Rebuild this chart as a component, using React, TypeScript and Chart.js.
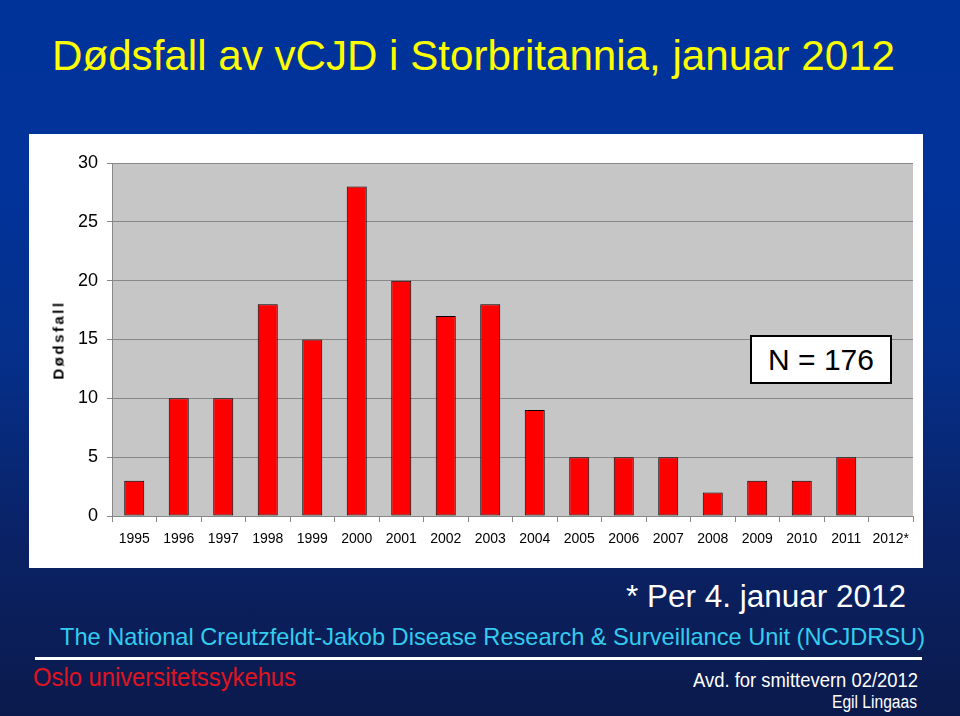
import React, { useEffect, useLayoutEffect, useRef, useState } from "react";
import { Chart, registerables } from "chart.js";

Chart.register(...registerables);

const categories = ["1995", "1996", "1997", "1998", "1999", "2000", "2001", "2002", "2003", "2004", "2005", "2006", "2007", "2008", "2009", "2010", "2011", "2012*"];
const deaths = [3, 10, 10, 18, 15, 28, 20, 17, 18, 9, 5, 5, 5, 2, 3, 3, 5, 0];
const yMax = 30;
const yStep = 5;

const FONT = "'Liberation Sans', Arial, Helvetica, sans-serif";

type FitProps = { text: string; left: number; capTop: number; width: number; size: number; color: string };

function FitText({ text, left, capTop, width, size, color }: FitProps) {
  const ref = useRef<HTMLSpanElement | null>(null);
  const [sx, setSx] = useState(1);
  useLayoutEffect(() => {
    if (ref.current) {
      const w = ref.current.getBoundingClientRect().width / sx;
      if (w > 0) setSx(width / w);
    }
  }, []);
  return (
    <span
      ref={ref}
      style={{
        position: "absolute",
        left,
        top: capTop - 0.1305 * size,
        fontFamily: FONT,
        fontSize: size,
        lineHeight: 1,
        color,
        whiteSpace: "nowrap",
        transform: `scaleX(${sx})`,
        transformOrigin: "left top",
      }}
    >
      {text}
    </span>
  );
}

const plotBg = {
  id: "plotBg",
  beforeDraw(chart: any) {
    const { ctx, chartArea } = chart;
    ctx.save();
    ctx.fillStyle = "#c6c6c6";
    ctx.fillRect(chartArea.left, chartArea.top, chartArea.right - chartArea.left, chartArea.bottom - chartArea.top);
    ctx.restore();
  },
};

function BarChart() {
  const canvasRef = useRef<HTMLCanvasElement | null>(null);
  useEffect(() => {
    if (!canvasRef.current) return;
    const chart = new Chart(canvasRef.current, {
      type: "bar",
      data: {
        labels: categories,
        datasets: [
          {
            data: deaths,
            backgroundColor: "#ff0000",
            borderColor: "#000000",
            borderWidth: 1,
            borderSkipped: false,
            barPercentage: 0.45,
            categoryPercentage: 1,
          },
        ],
      },
      options: {
        animation: false,
        responsive: false,
        maintainAspectRatio: false,
        layout: { padding: { top: 29, right: 10, left: 0, bottom: 0 } },
        plugins: { legend: { display: false }, tooltip: { enabled: false }, title: { display: false } },
        scales: {
          x: {
            grid: { display: true, drawOnChartArea: false, drawTicks: true, tickLength: 6, color: "#888888", offset: true },
            border: { color: "#888888", width: 1 },
            ticks: { color: "#000", font: { family: FONT, size: 14 }, padding: 9, maxRotation: 0, autoSkip: false },
            afterFit(s: any) {
              s.height = 52;
            },
          },
          y: {
            min: 0,
            max: yMax,
            ticks: { stepSize: yStep, color: "#000", font: { family: FONT, size: 18 }, padding: 9 },
            grid: { color: "#888888", tickLength: 5 },
            border: { color: "#888888", width: 1 },
            afterFit(s: any) {
              s.width = 83;
            },
          },
        },
      },
      plugins: [plotBg],
    });
    return () => chart.destroy();
  }, []);
  return <canvas ref={canvasRef} width={894} height={434} style={{ position: "absolute", left: 29, top: 134, width: 894, height: 434, background: "#ffffff" }} />;
}

export default function App() {
  useEffect(() => {
    document.body.style.margin = "0";
  }, []);
  return (
    <div
      style={{
        position: "fixed",
        left: 0,
        top: 0,
        width: 960,
        height: 716,
        overflow: "hidden",
        background: "linear-gradient(to bottom, #003399 0%, #01339a 25%, #052f8a 50%, #0a2266 75%, #0b1a4c 100%)",
        fontFamily: FONT,
      }}
    >
      <FitText text="Dødsfall av vCJD i Storbritannia, januar 2012" left={52} capTop={40} width={843} size={43} color="#ffff00" />
      <BarChart />
      <div
        style={{
          position: "absolute",
          left: 58,
          top: 340,
          transform: "translate(-50%, -50%) rotate(-90deg)",
          fontFamily: FONT,
          fontWeight: "bold",
          fontSize: 15,
          letterSpacing: "2.5px",
          color: "#000",
          whiteSpace: "nowrap",
        }}
      >
        Dødsfall
      </div>
      <div
        style={{
          position: "absolute",
          left: 750,
          top: 335,
          width: 142,
          height: 49,
          boxSizing: "border-box",
          border: "2px solid #000",
          background: "#fff",
          display: "flex",
          alignItems: "center",
          justifyContent: "center",
          fontFamily: FONT,
          fontSize: 30,
          color: "#000",
        }}
      >
        N = 176
      </div>
      <FitText text="* Per 4. januar 2012" left={626} capTop={585} width={280} size={31} color="#ffffff" />
      <FitText text="The National Creutzfeldt-Jakob Disease Research & Surveillance Unit (NCJDRSU)" left={60} capTop={628} width={865} size={24} color="#33ccee" />
      <div style={{ position: "absolute", left: 35, top: 657, width: 887, height: 3, background: "#ffffff" }} />
      <FitText text="Oslo universitetssykehus" left={33} capTop={668} width={263} size={25} color="#e0141e" />
      <FitText text="Avd. for smittevern 02/2012" left={693} capTop={672} width={225} size={21} color="#ffffff" />
      <FitText text="Egil Lingaas" left={832} capTop={695} width={85} size={18} color="#ffffff" />
    </div>
  );
}
